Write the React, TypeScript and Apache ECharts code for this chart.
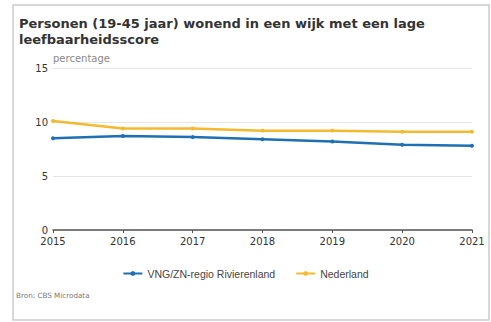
import React, { useEffect, useRef } from "react";
import * as echarts from "echarts";

const years = ["2015", "2016", "2017", "2018", "2019", "2020", "2021"];
const regioValues = [8.5, 8.7, 8.6, 8.4, 8.2, 7.9, 7.8];
const nederlandValues = [10.1, 9.4, 9.4, 9.2, 9.2, 9.1, 9.1];
const seriesNames = ["VNG/ZN-regio Rivierenland", "Nederland"];
const titleText = "Personen (19-45 jaar) wonend in een wijk met een lage\nleefbaarheidsscore";
const sourceText = "Bron: CBS Microdata";

const FONT = "DejaVu Sans, Verdana, sans-serif";
const LEGEND_FONT = "Liberation Sans, Arial, sans-serif";

export default function App() {
  const ref = useRef<HTMLDivElement>(null);
  useEffect(() => {
    if (!ref.current) return;
    const chart = echarts.init(ref.current, undefined, { renderer: "svg" });
    chart.setOption({
      animation: false,
      backgroundColor: "#ffffff",
      textStyle: { fontFamily: FONT },
      title: {
        text: titleText,
        left: 14,
        top: 10,
        textStyle: {
          fontFamily: FONT,
          fontSize: 13,
          fontWeight: "bold",
          color: "#333333",
          lineHeight: 16,
        },
      },
      grid: { left: 53, right: 19, top: 68, bottom: 92 },
      xAxis: {
        type: "category",
        data: years,
        boundaryGap: false,
        axisLine: { lineStyle: { color: "#555555", width: 1.5 } },
        axisTick: { show: true, length: 3, lineStyle: { color: "#555555" } },
        axisLabel: { color: "#333333", fontSize: 10, margin: 6, fontFamily: FONT },
        splitLine: { show: false },
      },
      yAxis: {
        type: "value",
        min: 0,
        max: 15,
        interval: 5,
        name: "percentage",
        nameLocation: "end",
        nameGap: 3,
        nameTextStyle: { color: "#888888", fontSize: 10, align: "left", fontFamily: FONT, padding: [0, 0, 0, 0] },
        axisLine: { show: false },
        axisTick: { show: false },
        axisLabel: { color: "#333333", fontSize: 10, margin: 5, fontFamily: FONT },
        splitLine: { lineStyle: { color: "#e6e6e6", width: 1 } },
      },
      legend: {
        data: seriesNames,
        top: 263,
        left: "center",
        itemWidth: 19,
        itemHeight: 6,
        itemGap: 20,
        textStyle: { color: "#444444", fontSize: 10.5, fontFamily: LEGEND_FONT },
      },
      graphic: [
        {
          type: "rect",
          shape: { x: 13, y: 5, width: 476, height: 315 },
          style: { fill: "none", stroke: "#cccccc", lineWidth: 1.5 },
          silent: true,
        },
        {
          type: "text",
          x: 16,
          y: 292,
          style: { text: sourceText, fontSize: 7.2, fill: "#777777", fontFamily: FONT },
        },
      ],
      series: [
        {
          name: seriesNames[0],
          type: "line",
          data: regioValues,
          symbol: "circle",
          symbolSize: 4,
          color: "#1f6fb3",
          lineStyle: { width: 2.5, color: "#1f6fb3" },
        },
        {
          name: seriesNames[1],
          type: "line",
          data: nederlandValues,
          symbol: "circle",
          symbolSize: 4,
          color: "#f4b92e",
          lineStyle: { width: 2.5, color: "#f4b92e" },
        },
      ],
    });
    return () => chart.dispose();
  }, []);
  return (
    <div style={{ position: "fixed", left: 0, top: 0, width: 491, height: 322 }}>
      <div ref={ref} style={{ width: 491, height: 322 }} />
    </div>
  );
}
